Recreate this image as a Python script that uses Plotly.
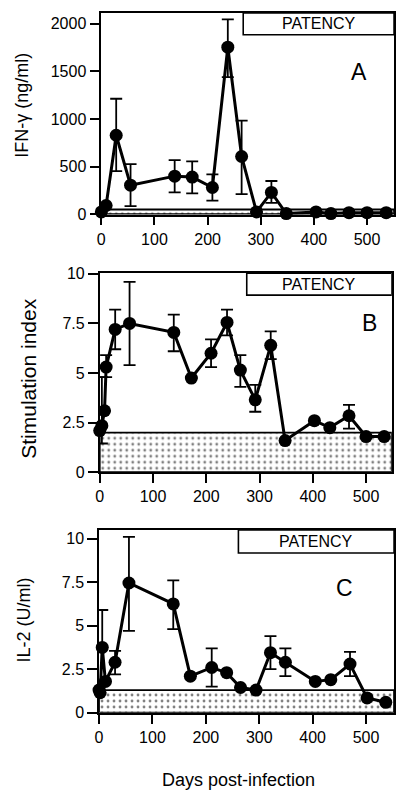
import plotly.graph_objects as go

# ---------------- data ----------------
# Panel A: IFN-gamma (ng/ml)
days_a = [0, 9, 28, 55, 138, 171, 209, 238, 264, 292, 320, 348, 404, 432, 466, 500, 536]
ifn = [24, 92, 829, 305, 400, 390, 281, 1753, 606, 24, 229, 7, 24, 7, 17, 17, 17]
ifn_hi = [None, None, 1212, 527, 569, 555, 418, 2045, 983, None, 349, None, None, None, None, None, None]
ifn_lo = [None, None, 452, 86, 229, 219, 144, 1438, 212, None, 120, None, None, None, None, None, None]

# Panel B: Stimulation index
days_b = [0, 4, 9, 12, 29, 56, 139, 172, 209, 239, 264, 292, 321, 348, 403, 432, 468, 500, 534]
si = [2.1, 2.35, 3.1, 5.3, 7.2, 7.5, 7.05, 4.75, 6.0, 7.55, 5.15, 3.65, 6.4, 1.6, 2.6, 2.25, 2.85, 1.8, 1.8]
si_hi = [None, 4.8, None, 5.9, 8.2, 9.6, 7.95, None, 6.7, 8.2, 5.9, 4.4, 7.1, None, None, None, 3.4, None, None]
si_lo = [None, 1.45, None, 4.8, 6.2, 5.4, 6.1, None, 5.3, 6.9, 4.3, 3.05, 5.7, None, None, None, 2.2, None, None]

# Panel C: IL-2 (U/ml)
days_c = [0, 2, 6, 12, 30, 56, 139, 171, 211, 239, 265, 294, 321, 349, 405, 434, 470, 502, 537]
il2 = [1.3, 1.15, 3.75, 1.8, 2.9, 7.45, 6.25, 2.1, 2.6, 2.3, 1.45, 1.3, 3.45, 2.9, 1.8, 1.9, 2.8, 0.85, 0.6]
il2_hi = [None, None, 5.9, None, 3.55, 10.1, 7.6, None, 3.7, None, None, None, 4.4, 3.7, None, None, 3.5, None, None]
il2_lo = [None, None, None, None, 2.2, 4.7, 4.8, None, 1.5, None, None, None, 2.5, 2.1, None, None, 2.1, None, None]

# background (cut-off) levels
thresholds = [50, 2.0, 1.3]
# start of patency period (days) as drawn in each panel
patency_start = [267, 276, 261]

panel_letters = ["A", "B", "C"]
y_titles = ["IFN-\u03b3 (ng/ml)", "Stimulation index", "IL-2 (U/ml)"]
x_title = "Days post-infection"
x_ticks = [0, 100, 200, 300, 400, 500]
y_ticks = [[0, 500, 1000, 1500, 2000], [0, 2.5, 5, 7.5, 10], [0, 2.5, 5, 7.5, 10]]
y_ticktext = [["0", "500", "1000", "1500", "2000"], ["0", "2.5", "5", "7.5", "10"], ["0", "2.5", "5", "7.5", "10"]]

# ---------------- layout geometry (pixels, 400x804) ----------------
W, H = 400, 804
FONT = "Liberation Sans, Arial, Helvetica, sans-serif"
panels = [
    dict(l=98.3, r=394.0, t=5.0, b=211.0, xr=[0, 550.8], yr=[-3, 2113]),
    dict(l=96.7, r=391.7, t=271.0, b=474.3, xr=[0, 548.3], yr=[0, 10.03]),
    dict(l=96.0, r=394.0, t=533.3, b=720.0, xr=[0, 552.5], yr=[0, 10.49]),
]
box_h = [22.3, 22.3, 23.4]
letter_pos = [(359, 65), (369, 322), (343.5, 592.5)]
ytitle_pos = [(18, 99), (25, 379), (20, 625)]

series = [(days_a, ifn, ifn_hi, ifn_lo), (days_b, si, si_hi, si_lo), (days_c, il2, il2_hi, il2_lo)]

fig = go.Figure()
shapes = []
annotations = []

for i, p in enumerate(panels):
    n = "" if i == 0 else str(i + 1)
    xa, ya = "x" + n, "y" + n
    dx, dy, hi, lo = series[i]
    plus = [(h - v) if h is not None else 0 for h, v in zip(hi, dy)]
    minus = [(v - l) if l is not None else 0 for l, v in zip(lo, dy)]
    xmax = p["xr"][1]

    # stippled background band
    fig.add_trace(go.Scatter(
        x=[0, xmax, xmax, 0, 0], y=[0, 0, thresholds[i], thresholds[i], 0],
        xaxis=xa, yaxis=ya, mode="lines", fill="toself",
        fillcolor="white",
        fillpattern=dict(shape=".", fgcolor="black", bgcolor="white", size=6, solidity=0.17),
        line=dict(color="black", width=1.8), hoverinfo="skip", showlegend=False,
    ))

    # data
    fig.add_trace(go.Scatter(
        x=dx, y=dy, xaxis=xa, yaxis=ya, mode="lines+markers",
        line=dict(color="black", width=3),
        marker=dict(color="black", size=13),
        error_y=dict(type="data", symmetric=False, array=plus, arrayminus=minus,
                     color="black", thickness=1.8, width=6),
        cliponaxis=False, showlegend=False,
    ))

    common_axis = dict(showline=True, linecolor="black", linewidth=1.6, mirror=True,
                       ticks="outside", tickcolor="black", tickwidth=1.6,
                       showgrid=False, zeroline=False,
                       tickfont=dict(family=FONT, size=16, color="black"))
    fig.update_layout(**{
        ("xaxis" + n): dict(common_axis, domain=[p["l"] / W, p["r"] / W], range=p["xr"],
                            anchor=ya, tickvals=x_ticks, ticklen=9),
        ("yaxis" + n): dict(common_axis, domain=[1 - p["b"] / H, 1 - p["t"] / H], range=p["yr"],
                            anchor=xa, tickvals=y_ticks[i], ticktext=y_ticktext[i], ticklen=10),
    })

    # patency box
    y0 = 1 - (p["t"] + box_h[i]) / H
    y1 = 1 - p["t"] / H
    shapes.append(dict(type="rect", xref=xa, yref="paper", x0=patency_start[i], x1=xmax,
                       y0=y0, y1=y1, line=dict(color="black", width=1.6),
                       fillcolor="white", layer="above"))
    annotations.append(dict(xref=xa, yref="paper", x=(patency_start[i] + xmax) / 2,
                            y=(y0 + y1) / 2, text="PATENCY", showarrow=False,
                            font=dict(family=FONT, size=16, color="black"),
                            xanchor="center", yanchor="middle"))
    # panel letter
    annotations.append(dict(xref="paper", yref="paper", x=letter_pos[i][0] / W,
                            y=1 - letter_pos[i][1] / H, text=panel_letters[i], showarrow=False,
                            font=dict(family=FONT, size=23, color="black"),
                            xanchor="center", yanchor="middle"))
    # y title
    annotations.append(dict(xref="paper", yref="paper", x=ytitle_pos[i][0] / W,
                            y=1 - ytitle_pos[i][1] / H, text=y_titles[i], showarrow=False,
                            textangle=-90,
                            font=dict(family=FONT, size=(21 if i == 1 else 18), color="black"),
                            xanchor="center", yanchor="middle"))

annotations.append(dict(xref="paper", yref="paper", x=236.7 / W, y=1 - 789 / H,
                        text=x_title, showarrow=False,
                        font=dict(family=FONT, size=18, color="black"),
                        xanchor="center", yanchor="middle"))

fig.update_layout(width=W, height=H, margin=dict(l=0, r=0, t=0, b=0),
                  paper_bgcolor="white", plot_bgcolor="white",
                  shapes=shapes, annotations=annotations, showlegend=False)

fig.write_html("out.html", config={"displayModeBar": False},
               post_script="document.body.style.margin='0px';")
